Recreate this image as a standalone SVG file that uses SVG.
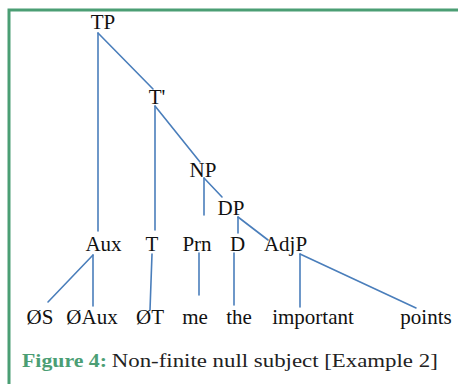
<svg xmlns="http://www.w3.org/2000/svg" width="458" height="384" viewBox="0 0 458 384">
  <style>
    .frame { stroke: #4b9e74; stroke-width: 3; fill: none; }
    .edge { stroke: #4a7ebb; stroke-width: 1.6; fill: none; stroke-linecap: round; }
    .lbl { font-family: "Liberation Serif", "Times New Roman", serif; font-size: 21px; fill: #111; text-anchor: middle; }
    .cap { font-family: "Liberation Serif", "Times New Roman", serif; font-size: 19px; fill: #222; }
    .capHead { fill: #4b9e74; font-weight: bold; }
  </style>
  <rect width="458" height="384" fill="#ffffff"/>

  <!-- frame (open on right and bottom) -->
  <path class="frame" d="M9,384 V10 H458"/>

  <!-- connectors -->
  <g id="edges">
    <line class="edge" x1="98" y1="33" x2="98" y2="231"/>
    <line class="edge" x1="98" y1="33" x2="153" y2="89"/>
    <line class="edge" x1="155" y1="106" x2="155" y2="230"/>
    <line class="edge" x1="155" y1="106" x2="200" y2="162"/>
    <line class="edge" x1="204" y1="178" x2="204" y2="215"/>
    <line class="edge" x1="204" y1="178" x2="222" y2="197"/>
    <line class="edge" x1="238" y1="217" x2="238" y2="233"/>
    <line class="edge" x1="238" y1="217" x2="268" y2="240"/>
    <line class="edge" x1="93" y1="255" x2="48" y2="302"/>
    <line class="edge" x1="93" y1="255" x2="93" y2="306"/>
    <line class="edge" x1="152" y1="254" x2="150" y2="310"/>
    <line class="edge" x1="199" y1="253" x2="199" y2="295"/>
    <line class="edge" x1="234" y1="253" x2="234" y2="305"/>
    <line class="edge" x1="300" y1="254" x2="300" y2="307"/>
    <line class="edge" x1="300" y1="254" x2="416" y2="308"/>
  </g>

  <!-- phrase nodes -->
  <g id="node-TP"><text class="lbl" x="103" y="29">TP</text></g>
  <g id="node-Tbar"><text class="lbl" x="157" y="104">T'</text></g>
  <g id="node-NP"><text class="lbl" x="203" y="177">NP</text></g>
  <g id="node-DP"><text class="lbl" x="231" y="215">DP</text></g>

  <!-- head nodes -->
  <g id="node-Aux"><text class="lbl" x="103.5" y="250.5">Aux</text></g>
  <g id="node-T"><text class="lbl" x="152" y="250.5">T</text></g>
  <g id="node-Prn"><text class="lbl" x="197" y="250.5">Prn</text></g>
  <g id="node-D"><text class="lbl" x="237.5" y="250.5">D</text></g>
  <g id="node-AdjP"><text class="lbl" x="285.5" y="250.5">AdjP</text></g>

  <!-- terminals -->
  <g id="node-nullS"><text class="lbl" x="40" y="323.5">ØS</text></g>
  <g id="node-nullAux"><text class="lbl" x="92" y="323.5">ØAux</text></g>
  <g id="node-nullT"><text class="lbl" x="150" y="323.5">ØT</text></g>
  <g id="node-me"><text class="lbl" x="195" y="323.5">me</text></g>
  <g id="node-the"><text class="lbl" x="239" y="323.5">the</text></g>
  <g id="node-important"><text class="lbl" x="313" y="323.5">important</text></g>
  <g id="node-points"><text class="lbl" x="426" y="323.5">points</text></g>

  <!-- caption -->
  <text class="cap" x="22" y="367"><tspan class="capHead" textLength="85" lengthAdjust="spacingAndGlyphs">Figure 4:</tspan> <tspan textLength="326" lengthAdjust="spacingAndGlyphs">Non-finite null subject [Example 2]</tspan></text>
</svg>
